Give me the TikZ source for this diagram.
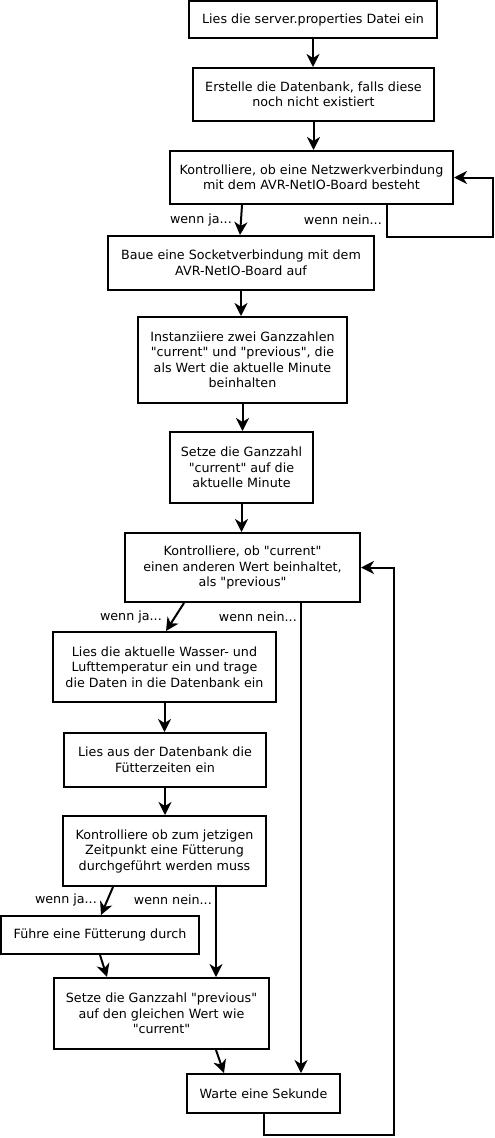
\documentclass[tikz,border=0pt]{standalone}
\usepackage{fontspec}
\setmainfont{DejaVu Sans}[Ligatures=TeXOff]
\usetikzlibrary{arrows.meta}

\begin{document}
\begin{tikzpicture}
[
    x=1pt, y=-1pt,
    every node/.style={font=\fontsize{12.7}{15.5}\selectfont},
    box/.style={draw, line width=2pt, align=center, inner sep=0pt, minimum width=#1},
    arr/.style={line width=2pt, -{Stealth[length=13pt, width=13pt, inset=4pt]}},
    lbl/.style={anchor=east, inner sep=0pt},
]
\useasboundingbox (0,0) rectangle (495,1138);

\node [box=248, minimum height=37] (readprops) at (313,19.5)
{Lies die server.properties Datei ein};
\node [box=241, minimum height=53] (createdb) at (313.5,94.5)
{Erstelle die Datenbank, falls diese\\noch nicht existiert};
\node [box=283, minimum height=53] (checknet) at (311.5,177.5)
{Kontrolliere, ob eine Netzwerkverbindung\\mit dem AVR-NetIO-Board besteht};
\node [box=266, minimum height=54] (socket) at (241,263)
{Baue eine Socketverbindung mit dem\\AVR-NetIO-Board auf};
\node [box=209, minimum height=86] (initvars) at (242.5,360)
{Instanziiere zwei Ganzzahlen\\"current" und "previous", die\\als Wert die aktuelle Minute\\beinhalten};
\node [box=143, minimum height=71] (setcurrent) at (241.5,467.5)
{Setze die Ganzzahl\\"current" auf die\\aktuelle Minute};
\node [box=235, minimum height=69] (checkmin) at (242.5,567.5)
{Kontrolliere, ob "current"\\einen anderen Wert beinhaltet,\\als "previous"};
\node [box=223, minimum height=70] (readtemp) at (164.5,667)
{Lies die aktuelle Wasser- und\\Lufttemperatur ein und trage\\die Daten in die Datenbank ein};
\node [box=202, minimum height=54] (readtimes) at (165,760)
{Lies aus der Datenbank die\\Fütterzeiten ein};
\node [box=203, minimum height=70] (checkfeed) at (164.5,851)
{Kontrolliere ob zum jetzigen\\Zeitpunkt eine Fütterung\\durchgeführt werden muss};
\node [box=198, minimum height=38] (feed) at (100,935)
{Führe eine Fütterung durch};
\node [box=215, minimum height=71] (setprevious) at (161.5,1013.5)
{Setze die Ganzzahl "previous"\\auf den gleichen Wert wie\\"current"};
\node [box=153, minimum height=39] (wait) at (263.5,1093.5)
{Warte eine Sekunde};

\node [lbl] (netyes) at (232,220) {wenn ja...};
\node [lbl] (netno) at (382,220) {wenn nein...};
\node [lbl] (minyes) at (162,617) {wenn ja...};
\node [lbl] (minno) at (297,617) {wenn nein...};
\node [lbl] (feedyes) at (97,900) {wenn ja...};
\node [lbl] (feedno) at (212,900) {wenn nein...};

\coordinate (netloop) at (493,237);
\coordinate (waitloop) at (394,1135);

\draw [arr] (readprops.south) -- (readprops.south |- createdb.north);
\draw [arr] (createdb.south) -- (createdb.south |- checknet.north);
\draw [arr] ([xshift=-69.5]checknet.south) -- ([xshift=-1]socket.north);
\draw [arr] ([xshift=75.5]checknet.south) |- (netloop) |- (checknet.east);
\draw [arr] (socket.south) -- (socket.south |- initvars.north);
\draw [arr] (initvars.south) -- (initvars.south |- setcurrent.north);
\draw [arr] (setcurrent.south) -- (setcurrent.south |- checkmin.north);
\draw [arr] ([xshift=-58.5]checkmin.south) -- ([xshift=1.5]readtemp.north);
\draw [arr] ([xshift=58.5]checkmin.south) -- ([xshift=58.5]checkmin.south |- wait.north);
\draw [arr] (readtemp.south) -- (readtemp.south |- readtimes.north);
\draw [arr] (readtimes.south) -- (readtimes.south |- checkfeed.north);
\draw [arr] ([xshift=-51.5]checkfeed.south) -- ([xshift=1]feed.north);
\draw [arr] ([xshift=51.5]checkfeed.south) -- ([xshift=51.5]checkfeed.south |- setprevious.north);
\draw [arr] (feed.south) -- ([xshift=-54.5]setprevious.north);
\draw [arr] ([xshift=54.5]setprevious.south) -- ([xshift=-39.5]wait.north);
\draw [arr] (wait.south) |- (waitloop) |- (checkmin.east);
\end{tikzpicture}
\end{document}
